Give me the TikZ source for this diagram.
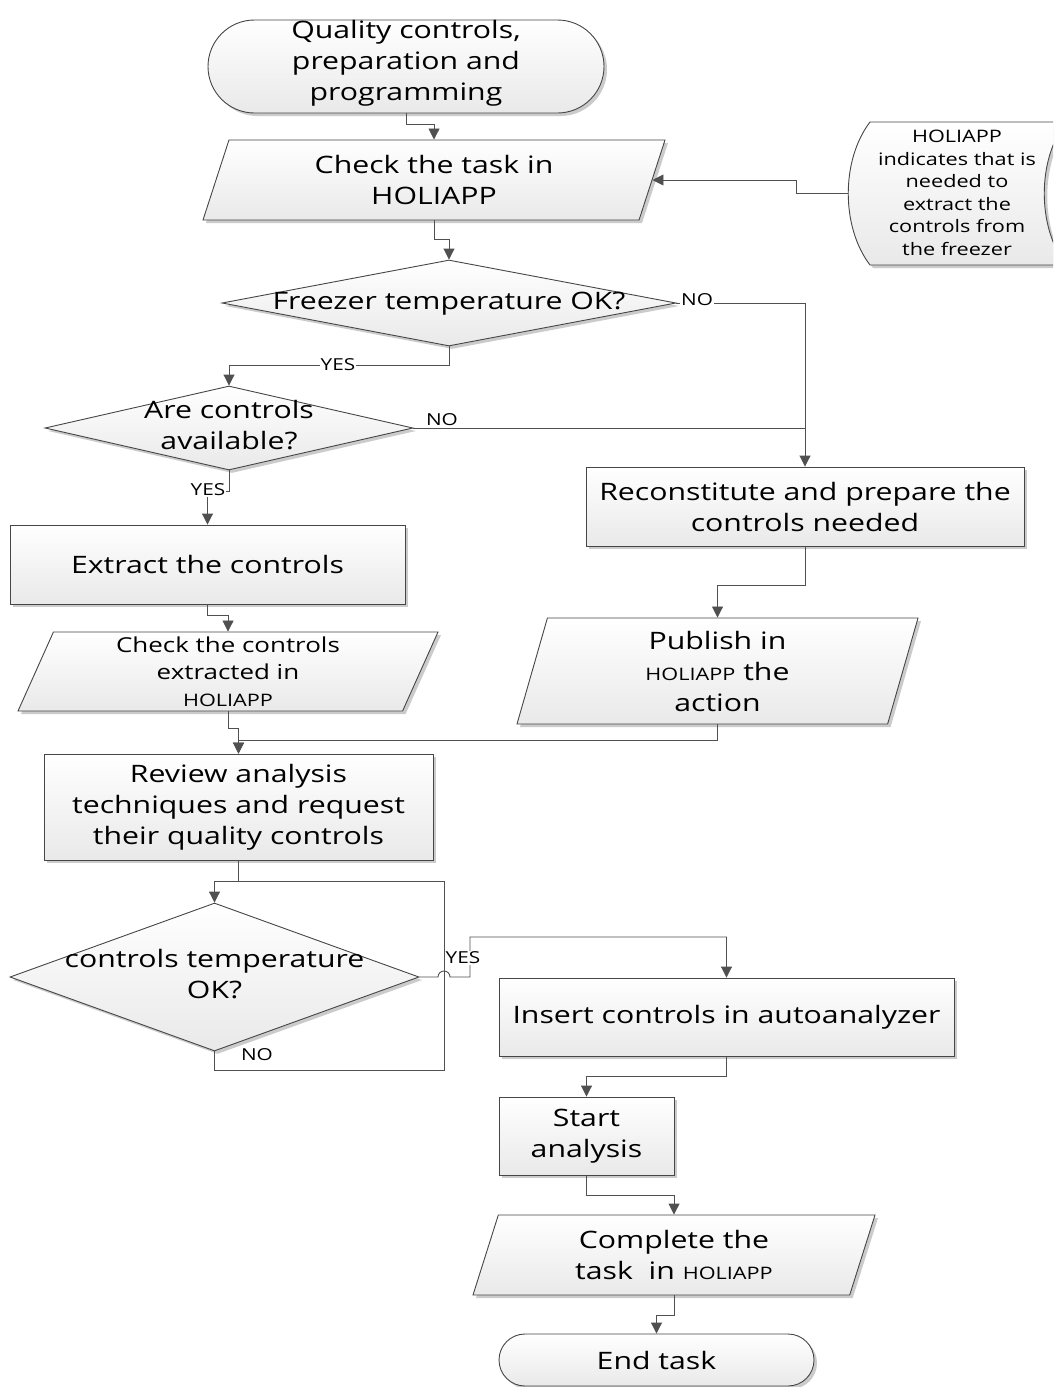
\documentclass[tikz,border=0pt]{standalone}
\usepackage{fontspec}
\setmainfont{Open Sans}[FakeStretch=1.26]
\usetikzlibrary{shapes.geometric,shapes.misc,arrows.meta,shadows,calc}

\definecolor{linegray}{RGB}{70,70,70}
\definecolor{conngray}{RGB}{80,80,80}
\definecolor{fillgray}{RGB}{233,233,233}
\definecolor{shadegray}{RGB}{190,190,190}

\newcommand\fbig{\fontsize{24}{31}\selectfont}
\newcommand\fmid{\fontsize{20.6}{27}\selectfont}
\newcommand\fsmall{\fontsize{17.2}{22.5}\selectfont}
\newcommand\flab{\fontsize{16.5}{18}\selectfont}
\newcommand\dtext[1]{\makebox[0pt]{\begin{tabular}{@{}c@{}}#1\end{tabular}}}

\tikzset{
  shapebase/.style={draw=linegray, line width=0.9pt, top color=white, bottom color=fillgray,
    drop shadow={shadow xshift=3pt, shadow yshift=-3pt, fill=shadegray, opacity=0.8},
    inner sep=0pt, align=center, font=\fbig, text=black},
  procbox/.style={shapebase, rectangle},
  termbox/.style={shapebase, rounded rectangle},
  decbox/.style={shapebase, diamond},
  iobox/.style={shapebase, trapezium, trapezium stretches body,
    trapezium left angle=#1, trapezium right angle=180-#1},
  conn/.style={draw=conngray, line width=0.9pt},
  arr/.style={conn, -{Triangle[width=11pt,length=11pt]}},
  lab/.style={font=\flab, fill=white, inner sep=1pt, text=black}
}

\begin{document}
\begin{tikzpicture}[x=1pt, y=-1pt]
\useasboundingbox (0,0) rectangle (1053,1387);
\fill[white] (0,0) rectangle (1053,1387);
\clip (0,0) rectangle (1053,1387);

% main column of steps
\node[termbox, minimum width=396pt, minimum height=93pt] (start) at (406,66.5)
  {Quality controls,\\preparation and\\programming\rule[-12pt]{0pt}{0pt}};
\node[iobox=62.3, minimum width=462pt, minimum height=80pt] (check) at (434,180)
  {Check the task in\\HOLIAPP};
\node[decbox, minimum width=454pt, minimum height=86pt] (freezer) at (449,303)
  {\dtext{Freezer temperature OK?}};
\node[decbox, minimum width=368pt, minimum height=84pt] (avail) at (229,428)
  {\dtext{Are controls\\available?}};
\node[procbox, minimum width=395pt, minimum height=79pt] (extract) at (207.5,564.5)
  {Extract the controls};
\node[iobox=63.1, minimum width=420pt, minimum height=79pt, font=\fmid] (chkctl) at (228,671.5)
  {Check the controls\\extracted in\\{\fsmall HOLIAPP}};
\node[procbox, minimum width=438pt, minimum height=79pt] (recon) at (805,506.5)
  {Reconstitute and prepare the\\controls needed};
\node[iobox=69.3, minimum width=401pt, minimum height=106pt] (publish) at (717.5,671)
  {Publish in\\{\fsmall HOLIAPP} the\\action};
\node[procbox, minimum width=389pt, minimum height=106pt] (review) at (238.5,807)
  {Review analysis\\techniques and request\\their quality controls};
\node[decbox, minimum width=409pt, minimum height=148pt] (ctemp) at (214.5,977)
  {\dtext{controls temperature\\OK?}};
\node[procbox, minimum width=455pt, minimum height=78pt] (insert) at (726.5,1017)
  {Insert controls in autoanalyzer};
\node[procbox, minimum width=175pt, minimum height=78pt] (startan) at (586.5,1136)
  {Start\\analysis};
\node[iobox=62.9, minimum width=402pt, minimum height=80pt] (complete) at (674,1255)
  {Complete the\\task\ \ in {\fsmall HOLIAPP}};
\node[termbox, minimum width=315pt, minimum height=52pt] (endt) at (656.5,1360)
  {End task};

% stored-data note on the right
\path[shapebase] (870,122) -- (1066,122) .. controls (1037,160) and (1037,227) .. (1066,265)
  -- (870,265) .. controls (841,227) and (841,160) .. (870,122) -- cycle;
\node[font=\fsmall, align=center, inner sep=0pt] (note) at (957,193)
  {HOLIAPP\\indicates that is\\needed to\\extract the\\controls from\\the freezer};
\coordinate (noteW) at (848,193);

% connectors
\draw[arr] (start.south) -- ++(0,11) -| (check.north);
\draw[arr] (noteW) -- ++(-52,0) |- (check.east);
\draw[arr] (check.south) -- ++(0,19) -| (freezer.north);

\draw[arr] (freezer.east) -- (recon.north |- freezer.east) -- (recon.north);
\node[lab] (noA) at (697,300) {NO};
\draw[arr] (freezer.south) -- ++(0,19) -| (avail.north);
\node[lab] (yesA) at (338,365) {YES};

\draw[conn] (avail.east) -- (recon.north |- avail.east);
\node[lab] (noB) at (442,420) {NO};
\draw[arr] (avail.south) -- ++(0,21) -| (extract.north);
\node[lab] (yesB) at (208,490) {YES};

\draw[arr] (extract.south) -- ++(0,11) -| (chkctl.north);
\draw[arr] (recon.south) -- ++(0,39) -| (publish.north);
\draw[arr] (chkctl.south) -- ++(0,17) -| (review.north);
\draw[arr] (publish.south) -- ++(0,16) -| (review.north);

\draw[arr] (review.south) -- ++(0,21) -| (ctemp.north);
\coordinate (loopB) at (444,1070);
\coordinate (loopT) at (444,881);
\draw[conn] (ctemp.south) |- (loopB) -- (loopT) -- (ctemp.north |- loopT);
\node[font=\flab, inner sep=1pt] (noC) at (257,1055) {NO};

\draw[arr] (ctemp.east) -- (438,977) arc[start angle=180, delta angle=180, radius=6]
  -- (470,977) -- (470,937) -| (insert.north);
\node[lab] (yesC) at (463,958) {YES};

\draw[arr] (insert.south) -- ++(0,20) -| (startan.north);
\draw[arr] (startan.south) -- ++(0,20) -| (complete.north);
\draw[arr] (complete.south) -- ++(0,20) -| (endt.north);
\end{tikzpicture}
\end{document}
